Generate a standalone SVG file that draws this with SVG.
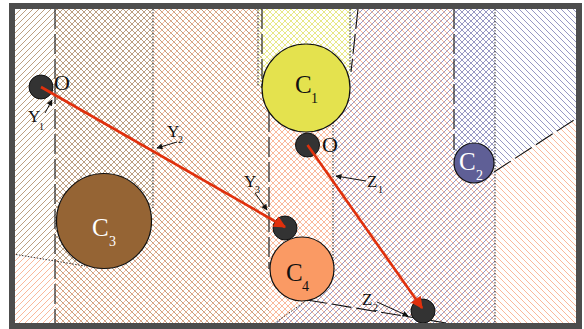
<svg xmlns="http://www.w3.org/2000/svg" width="584" height="329" viewBox="0 0 584 329">
<style>
.hl{stroke-width:0.72;fill:none;shape-rendering:crispEdges}
.dash{stroke:#111;stroke-width:1.1;stroke-dasharray:20 5;fill:none}
.dot{stroke:#333;stroke-width:1;stroke-dasharray:1.5 1.5;fill:none}
.circ{stroke:#111;stroke-width:1.2}
.dotn{fill:#333;stroke:#111;stroke-width:1}
.lbl{font-family:"Liberation Serif",serif;fill:#111}
.big{font-size:25px}
.sub{font-size:14px}
.sm{font-size:17px}
.smsub{font-size:10px}
.wt{fill:#fff}
.red{stroke:#e0300c;stroke-width:2.6;fill:none}
.blk{stroke:#111;stroke-width:1;fill:none}
</style>
<defs>
<pattern id="bF" width="6" height="6" patternUnits="userSpaceOnUse"><rect width="6" height="6" fill="#fff"/><path class="hl" stroke="#a27a52" d="M-1,1L1,-1M0,6L6,0M5,7L7,5"/></pattern>
<pattern id="oF" width="6" height="6" patternUnits="userSpaceOnUse"><rect width="6" height="6" fill="#fff"/><path class="hl" stroke="#f79e76" d="M-1,1L1,-1M0,6L6,0M5,7L7,5"/></pattern>
<pattern id="yF" width="6" height="6" patternUnits="userSpaceOnUse"><rect width="6" height="6" fill="#fff"/><path class="hl" stroke="#e0e058" d="M-1,1L1,-1M0,6L6,0M5,7L7,5"/></pattern>
<pattern id="lF" width="6" height="6" patternUnits="userSpaceOnUse"><rect width="6" height="6" fill="#fff"/><path class="hl" stroke="#7070ac" d="M-1,1L1,-1M0,6L6,0M5,7L7,5"/></pattern>
<pattern id="bB" width="6" height="6" patternUnits="userSpaceOnUse"><path class="hl" stroke="#a27a52" d="M-1,5L1,7M0,0L6,6M5,-1L7,1"/></pattern>
<pattern id="oB" width="6" height="6" patternUnits="userSpaceOnUse"><path class="hl" stroke="#f79e76" d="M-1,5L1,7M0,0L6,6M5,-1L7,1"/></pattern>
<pattern id="yB" width="6" height="6" patternUnits="userSpaceOnUse"><path class="hl" stroke="#e0e058" d="M-1,5L1,7M0,0L6,6M5,-1L7,1"/></pattern>
<pattern id="lB" width="6" height="6" patternUnits="userSpaceOnUse"><path class="hl" stroke="#7070ac" d="M-1,5L1,7M0,0L6,6M5,-1L7,1"/></pattern>
<marker id="ra" viewBox="0 0 10 10" refX="9" refY="5" markerWidth="17" markerHeight="12" markerUnits="userSpaceOnUse" orient="auto"><path d="M0,0L10,5L0,10Z" fill="#e0300c"/></marker>
<marker id="ka" viewBox="0 0 10 10" refX="9" refY="5" markerWidth="9" markerHeight="6" markerUnits="userSpaceOnUse" orient="auto"><path d="M0,0L10,5L0,10Z" fill="#111"/></marker>
</defs>
<rect width="584" height="329" fill="#fff"/>
<g id="regions">
<rect x="15" y="9" width="480" height="314" fill="url(#oF)"/>
<path d="M15,9H153V221A47.5,47.5 0 0 1 85,264L15,254Z" fill="url(#bF)"/>
<rect x="258" y="9" width="92" height="79" fill="url(#yF)"/>
<path d="M350,9H495V323H275.5L307,300L333,277V122L350,88Z" fill="url(#lF)"/>
<path d="M55,9H262V88L269,112V323H55Z" fill="url(#bB)"/>
<path d="M262,9H356L350,88H262Z" fill="url(#yB)"/>
<path d="M454,9H577V119L493,170L454,163Z" fill="url(#lB)"/>
<path d="M350,88L356,9H454V163L493,170L577,119V323H269V112L262,88Z" fill="url(#oB)"/>
</g>
<g id="boundaries">
<path class="dash" d="M55,9V323M262,9V88M269,112V269M454,9V150M494,172L577,118M358,9L351,72M307,300L446,323"/>
<path class="dot" d="M153,9V208M13,254L85,266M258,9V86M350,9V72M333,122V261M307,300L275,323M495,9V323"/>
</g>
<g id="C1"><circle class="circ" cx="306" cy="88" r="44" fill="#e4e24e"/><text class="lbl big" x="295" y="93">C</text><text class="lbl sub" x="311" y="103">1</text></g>
<g id="C2"><circle class="circ" cx="474" cy="163" r="20" fill="#5f5f96"/><text class="lbl big wt" x="459" y="170">C</text><text class="lbl sub wt" x="476" y="180">2</text></g>
<g id="C3"><circle class="circ" cx="104" cy="221" r="47.5" fill="#956434"/><text class="lbl big wt" x="92" y="236">C</text><text class="lbl sub wt" x="109" y="246">3</text></g>
<g id="C4"><circle class="circ" cx="302" cy="269" r="32" fill="#fa9a64"/><text class="lbl big" x="286" y="281">C</text><text class="lbl sub" x="302" y="291">4</text></g>
<g id="O1"><circle class="dotn" cx="41" cy="87" r="12"/><text class="lbl" style="font-size:22px" x="54" y="90">O</text></g>
<g id="O2"><circle class="dotn" cx="307.5" cy="145" r="12"/><text class="lbl" style="font-size:22px" x="322" y="152">O</text></g>
<g id="P3"><circle class="dotn" cx="285" cy="228" r="12"/></g>
<g id="P4"><circle class="dotn" cx="423" cy="311" r="12"/></g>
<g id="connectors">
<path class="red" d="M41,87L285,227" marker-end="url(#ra)"/>
<path class="red" d="M307.5,145L422,308" marker-end="url(#ra)"/>
<path class="blk" d="M45,113L52,100" marker-end="url(#ka)"/>
<path class="blk" d="M177,142L157,148" marker-end="url(#ka)"/>
<path class="blk" d="M255,193L267,210" marker-end="url(#ka)"/>
<path class="blk" d="M366,181L336,176" marker-end="url(#ka)"/>
<path class="blk" d="M377,302L408,316" marker-end="url(#ka)"/>
</g>
<g id="labels">
<text class="lbl sm" x="28" y="122">Y</text><text class="lbl smsub" x="39" y="130">1</text>
<text class="lbl sm" x="167" y="137">Y</text><text class="lbl smsub" x="178" y="143">2</text>
<text class="lbl sm" x="244" y="187">Y</text><text class="lbl smsub" x="255" y="193">3</text>
<text class="lbl sm" x="367" y="187">Z</text><text class="lbl smsub" x="378" y="193">1</text>
<text class="lbl sm" x="362" y="305">Z</text><text class="lbl smsub" x="373" y="311">2</text>
</g>
<rect id="frame" x="12" y="6" width="567" height="320" fill="none" stroke="#4d4d4d" stroke-width="6"/>
</svg>
